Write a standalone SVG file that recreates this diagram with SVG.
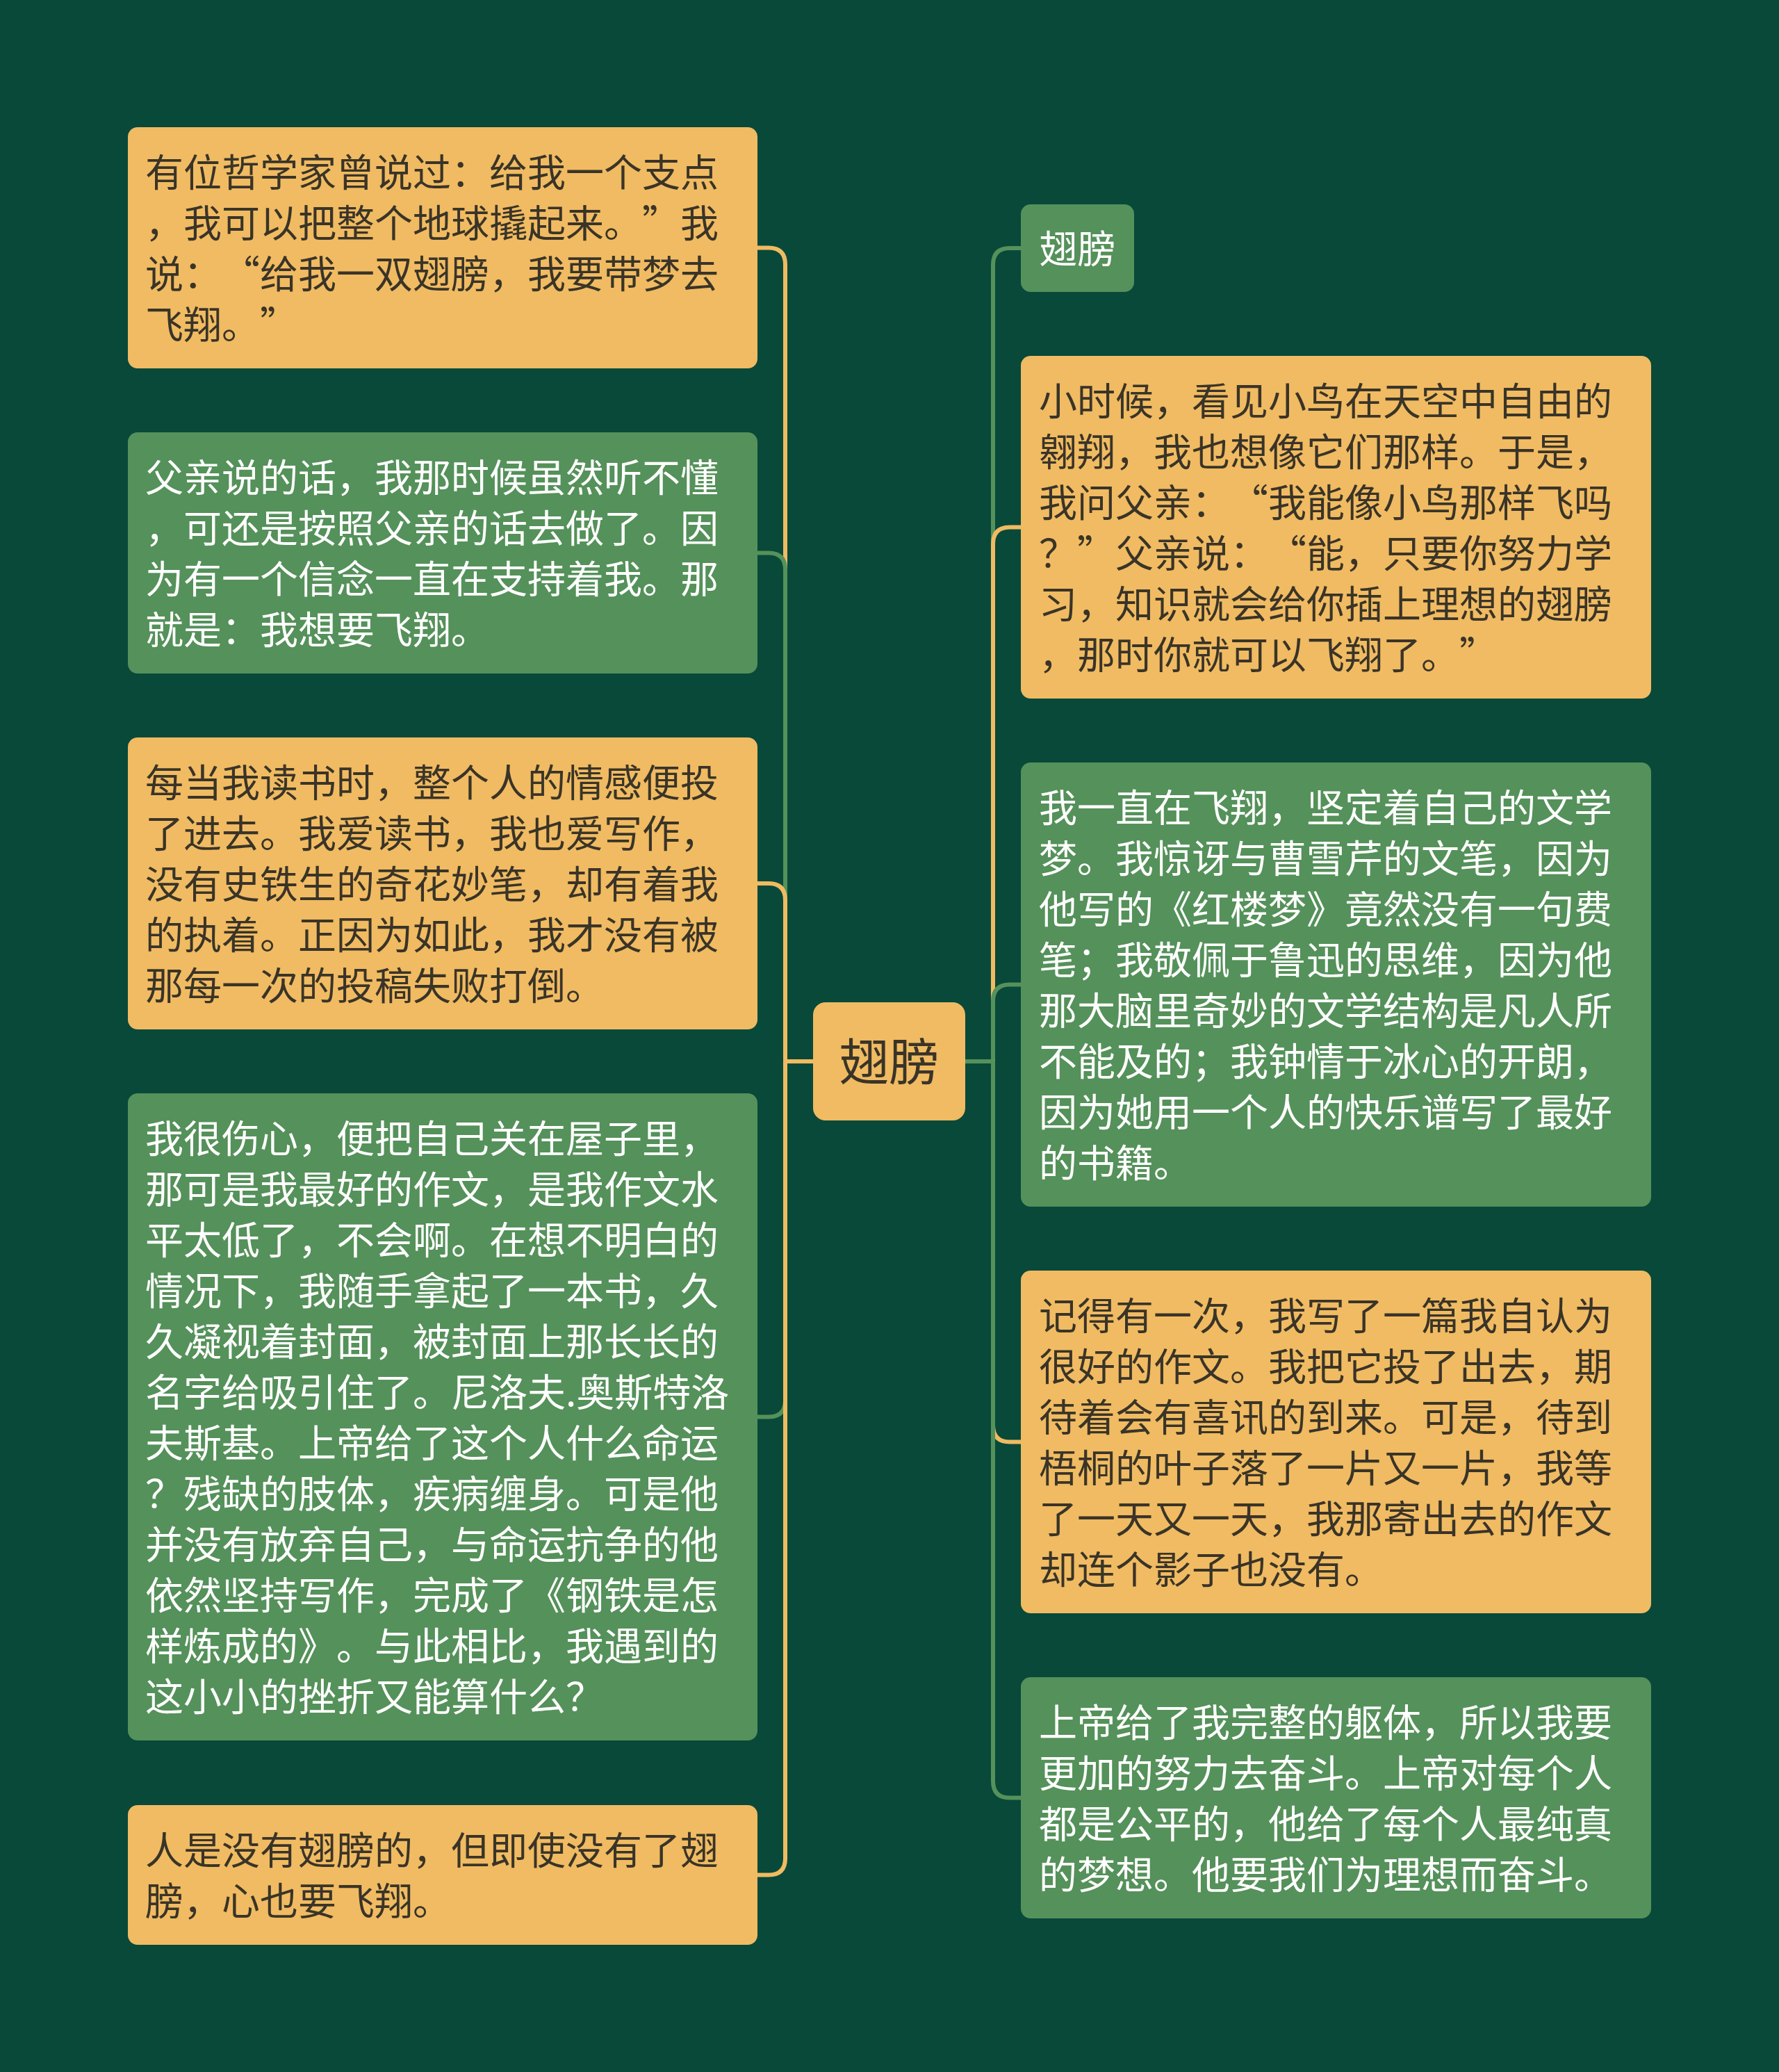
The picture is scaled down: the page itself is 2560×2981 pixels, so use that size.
<svg xmlns="http://www.w3.org/2000/svg" width="2560" height="2981" viewBox="0 0 2560 2981">
<style>
.bg{fill:#08493A}
.y{fill:#F0BB62}
.g{fill:#55915A}
.cy{fill:none;stroke:#F0BB62;stroke-width:6;stroke-linejoin:round}
.cg{fill:none;stroke:#55915A;stroke-width:6;stroke-linejoin:round}
.t{font-family:"Noto Sans CJK SC","Noto Sans",sans-serif;font-size:55px;text-spacing-trim:space-all}
.q{font-feature-settings:"fwid" 1}
.td{fill:#3A3428}
.tw{fill:#FFFFFF}
.tc{font-family:"Noto Sans CJK SC","Noto Sans",sans-serif;font-size:72px;fill:#3A3428;text-anchor:middle}
</style>
<rect class="bg" x="0" y="0" width="2560" height="2981"/>
<g id="connectors">
<path class="cy" d="M1170,1527 H1130 V380.5 Q1130,356.5 1106,356.5 H1090"/>
<path class="cg" d="M1170,1527 H1130 V819.5 Q1130,795.5 1106,795.5 H1090"/>
<path class="cy" d="M1170,1527 H1130 V1295 Q1130,1271 1106,1271 H1090"/>
<path class="cg" d="M1170,1527 H1130 V2014.5 Q1130,2038.5 1106,2038.5 H1090"/>
<path class="cy" d="M1170,1527 H1130 V2673.5 Q1130,2697.5 1106,2697.5 H1090"/>
<path class="cg" d="M1389,1527 H1429 V381 Q1429,357 1453,357 H1469"/>
<path class="cy" d="M1389,1527 H1429 V782.5 Q1429,758.5 1453,758.5 H1469"/>
<path class="cg" d="M1389,1527 H1429 V1440.5 Q1429,1416.5 1453,1416.5 H1469"/>
<path class="cy" d="M1389,1527 H1429 V2050.5 Q1429,2074.5 1453,2074.5 H1469"/>
<path class="cg" d="M1389,1527 H1429 V2562.5 Q1429,2586.5 1453,2586.5 H1469"/>
</g>
<g id="center">
<rect class="y" x="1170" y="1442" width="219" height="170" rx="18"/>
<text class="tc" x="1279.5" y="1554">翅膀</text>
</g>
<g id="L1">
<rect class="y" x="184" y="183" width="906" height="347" rx="14"/>
<text class="t td"><tspan x="209" y="268">有位哲学家曾说过：给我一个支点</tspan><tspan x="209" y="341">，我可以把整个地球撬起来。<tspan class="q">”</tspan>我</tspan><tspan x="209" y="414">说：<tspan class="q">“</tspan>给我一双翅膀，我要带梦去</tspan><tspan x="209" y="487">飞翔。<tspan class="q">”</tspan></tspan></text>
</g>
<g id="L2">
<rect class="g" x="184" y="622" width="906" height="347" rx="14"/>
<text class="t tw"><tspan x="209" y="707">父亲说的话，我那时候虽然听不懂</tspan><tspan x="209" y="780">，可还是按照父亲的话去做了。因</tspan><tspan x="209" y="853">为有一个信念一直在支持着我。那</tspan><tspan x="209" y="926">就是：我想要飞翔。</tspan></text>
</g>
<g id="L3">
<rect class="y" x="184" y="1061" width="906" height="420" rx="14"/>
<text class="t td"><tspan x="209" y="1146">每当我读书时，整个人的情感便投</tspan><tspan x="209" y="1219">了进去。我爱读书，我也爱写作，</tspan><tspan x="209" y="1292">没有史铁生的奇花妙笔，却有着我</tspan><tspan x="209" y="1365">的执着。正因为如此，我才没有被</tspan><tspan x="209" y="1438">那每一次的投稿失败打倒。</tspan></text>
</g>
<g id="L4">
<rect class="g" x="184" y="1573" width="906" height="931" rx="14"/>
<text class="t tw"><tspan x="209" y="1658">我很伤心，便把自己关在屋子里，</tspan><tspan x="209" y="1731">那可是我最好的作文，是我作文水</tspan><tspan x="209" y="1804">平太低了，不会啊。在想不明白的</tspan><tspan x="209" y="1877">情况下，我随手拿起了一本书，久</tspan><tspan x="209" y="1950">久凝视着封面，被封面上那长长的</tspan><tspan x="209" y="2023">名字给吸引住了。尼洛夫.奥斯特洛</tspan><tspan x="209" y="2096">夫斯基。上帝给了这个人什么命运</tspan><tspan x="209" y="2169">？残缺的肢体，疾病缠身。可是他</tspan><tspan x="209" y="2242">并没有放弃自己，与命运抗争的他</tspan><tspan x="209" y="2315">依然坚持写作，完成了《钢铁是怎</tspan><tspan x="209" y="2388">样炼成的》。与此相比，我遇到的</tspan><tspan x="209" y="2461">这小小的挫折又能算什么？</tspan></text>
</g>
<g id="L5">
<rect class="y" x="184" y="2597" width="906" height="201" rx="14"/>
<text class="t td"><tspan x="209" y="2682">人是没有翅膀的，但即使没有了翅</tspan><tspan x="209" y="2755">膀，心也要飞翔。</tspan></text>
</g>
<g id="R0">
<rect class="g" x="1469" y="294" width="163" height="126" rx="14"/>
<text class="t tw" x="1550.5" y="378" text-anchor="middle">翅膀</text>
</g>
<g id="R1">
<rect class="y" x="1469" y="512" width="907" height="493" rx="14"/>
<text class="t td"><tspan x="1495" y="597">小时候，看见小鸟在天空中自由的</tspan><tspan x="1495" y="670">翱翔，我也想像它们那样。于是，</tspan><tspan x="1495" y="743">我问父亲：<tspan class="q">“</tspan>我能像小鸟那样飞吗</tspan><tspan x="1495" y="816">？<tspan class="q">”</tspan>父亲说：<tspan class="q">“</tspan>能，只要你努力学</tspan><tspan x="1495" y="889">习，知识就会给你插上理想的翅膀</tspan><tspan x="1495" y="962">，那时你就可以飞翔了。<tspan class="q">”</tspan></tspan></text>
</g>
<g id="R2">
<rect class="g" x="1469" y="1097" width="907" height="639" rx="14"/>
<text class="t tw"><tspan x="1495" y="1182">我一直在飞翔，坚定着自己的文学</tspan><tspan x="1495" y="1255">梦。我惊讶与曹雪芹的文笔，因为</tspan><tspan x="1495" y="1328">他写的《红楼梦》竟然没有一句费</tspan><tspan x="1495" y="1401">笔；我敬佩于鲁迅的思维，因为他</tspan><tspan x="1495" y="1474">那大脑里奇妙的文学结构是凡人所</tspan><tspan x="1495" y="1547">不能及的；我钟情于冰心的开朗，</tspan><tspan x="1495" y="1620">因为她用一个人的快乐谱写了最好</tspan><tspan x="1495" y="1693">的书籍。</tspan></text>
</g>
<g id="R3">
<rect class="y" x="1469" y="1828" width="907" height="493" rx="14"/>
<text class="t td"><tspan x="1495" y="1913">记得有一次，我写了一篇我自认为</tspan><tspan x="1495" y="1986">很好的作文。我把它投了出去，期</tspan><tspan x="1495" y="2059">待着会有喜讯的到来。可是，待到</tspan><tspan x="1495" y="2132">梧桐的叶子落了一片又一片，我等</tspan><tspan x="1495" y="2205">了一天又一天，我那寄出去的作文</tspan><tspan x="1495" y="2278">却连个影子也没有。</tspan></text>
</g>
<g id="R4">
<rect class="g" x="1469" y="2413" width="907" height="347" rx="14"/>
<text class="t tw"><tspan x="1495" y="2498">上帝给了我完整的躯体，所以我要</tspan><tspan x="1495" y="2571">更加的努力去奋斗。上帝对每个人</tspan><tspan x="1495" y="2644">都是公平的，他给了每个人最纯真</tspan><tspan x="1495" y="2717">的梦想。他要我们为理想而奋斗。</tspan></text>
</g>
</svg>
